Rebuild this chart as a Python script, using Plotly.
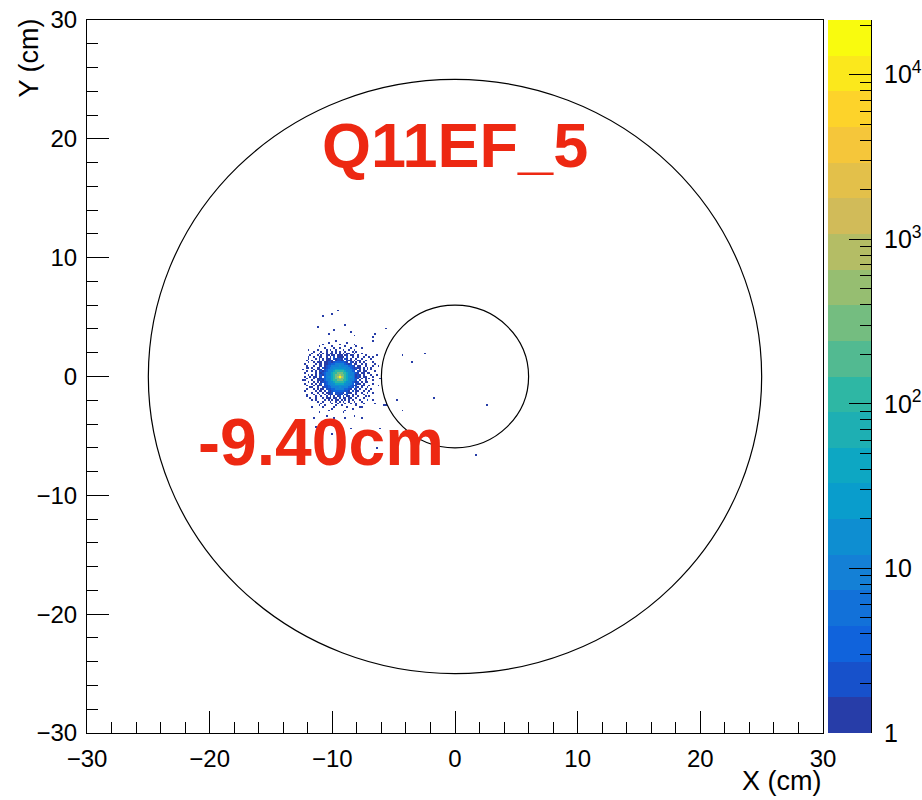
import numpy as np
import plotly.graph_objects as go

# ---------------- data ----------------
x_range = [-30, 30]
y_range = [-30, 30]
x_title = "X (cm)"
y_title = "Y (cm)"

bin_width_cm = 0.15
spot_center_cm = [-9.40, 0.0]

# character -> counts per bin for the core map
level_chars = ['.', '1', '2', '3', '4', '5', '6', '7', '8', '9', 'A', 'B', 'C']
level_counts = [0, 1, 2, 4, 8, 16, 40, 100, 300, 1000, 3000, 10000, 21000]

# core of the beam spot, one char per bin, top row = highest y (spaces are only separators)
core_rows = [
    "..... ..... ..... ...1. . ..... ..... ..... .....",
    "..... ..... ....1 ..... . ...1. ..... ..... .....",
    "..... ..... .1... ..... 1 ..... ..1.. ..... .....",
    "..... ....1 ..... .1... . ..1.. ...1. ..... .....",
    "..... ..... ..1.. ..1.. 1 ..... 1.... .1... .....",
    "..... ...1. ...1. 1..1. . .1..1 ..1.. ..... .....",
    "..... .1... 1..1. .1.1. 1 ..1.. .1.1. ..... .....",
    "..... 1...1 .1.1. 11.1. 1 .1.11 ..1.. .1... .....",
    "....1 ...1. 1..11 .11.1 1 1.11. 11..1 ...1. .....",
    "...1. .1..1 1..1. 1.2.1 1 11.2. .1..1 ..1.. 1....",
    "...1. ..1.1 .1.11 1.212 2 1.21. 1..1. .1... .1...",
    "..1.. 1...1 .1.11 21.12 2 12.21 1.1.1 1..1. .....",
    "...1. .1.11 1.112 21233 3 3321. 21.1. 1.1.. ..1..",
    ".1... ..1.1 1.112 23344 4 44321 2.11. .1.1. ...1.",
    "..1.. .1..1 1.123 34444 5 44443 321.1 1..1. ..1..",
    "...1. 1..11 .2123 44555 5 55544 32121 1.1.1 .1...",
    "1.... .1.11 1.234 45566 6 66554 4321. 1.1.1 .1...",
    "..1.. 1.1.1 21234 55677 7 77655 432.2 1.11. ...1.",
    ".1... ..1.1 12344 56778 8 87765 44321 .11.1 1....",
    "...1. 1.1.2 21344 56788 9 88765 44312 1.1.. .1..1",
    ".1..1 .11.1 2.345 56789 C 98765 54312 1.11. ..1..",
    "..1.. .1.11 12344 56788 9 88765 44321 .1.1. 1....",
    "1.... 1..11 21344 56778 8 87765 4432. 1..1. ..1..",
    "...1. .1.1. 12234 55677 7 77655 43212 .1.11 .....",
    ".1... 1.1.1 2.234 45566 6 66554 43.21 1.1.. ..1..",
    "..1.. .1.11 1.223 44555 5 55544 3221. .11.. 1....",
    "....1 1..1. .1223 34444 5 44443 32.21 .1..1 .....",
    "..1.. .1.1. 11.22 23344 4 44332 1.21. 1..1. .1...",
    ".1... ..1.1 1.1.2 12333 3 33221 .2.11 ..1.. 1....",
    "..... 1..1. .1.11 12.22 2 21.21 1..1. .1..1 ..1..",
    "..1.. .1..1 ..1.1 21.12 1 2.12. .1.1. ..1.. .....",
    "..... ..1.. 1..1. 1.1.1 2 .1.11 .1..1 ...1. 1....",
    "....1 ..1.. .1.11 1.11. 1 .11.1 1..1. ..1.. .....",
    "..... 1.... ..1.1 .1.11 . 1.1.1 .1... 1...1 .....",
    "..... ...1. .1... 1..1. 1 .1..1 ..1.. .1... .....",
    "..... ..... 1.... .1..1 . ..1.. 1..1. ..1.. .....",
    "..... ....1 ..1.. ...1. . 1.... ...1. ..... .....",
    "..... ..... .1... ..1.. . ...1. ..... 1.... .....",
    "..... ..... ..... .1... . ..... .1... ..... .....",
    "..... ..... ....1 ..... . ..1.. ..... ..... .....",
    "..... ..... ..... ..... . .1... ..... ..... .....",
]

# isolated single hits outside the core (cm)
outlier_x = [-9.54, -10.72, -10.03, -8.54, -8.27, -5.69, -6.69, -2.43, -3.51, -4.28,
             -1.80, 2.62, -5.63, -4.73, -6.10, -4.33, 1.73, -11.17, -8.95, -9.90,
             -6.50, -6.77, -6.23, -11.94, -12.21, -12.07, -11.66, -11.53, -10.99, -10.44,
             -9.82, -8.95, -8.13, -7.59, -7.18, -6.50, -5.83, -8.00, -10.03, -11.39,
             -8.54, -6.10, -6.37, -8.40, -7.59, -10.31, -6.64, -6.37, -12.07, -6.77,
             -11.39, -6.23]
outlier_y = [5.51, 5.12, 5.18, 3.77, 3.49, 4.04, 3.01, 2.00, 1.25, 1.75,
             -1.84, -2.34, -2.40, -1.98, -0.13, -2.82, -6.61, 4.25, 4.42, 3.91,
             3.64, 1.67, 0.97, 2.23, -0.29, -1.70, -2.54, -3.38, -2.96, -3.24,
             -3.38, -3.43, -3.24, -2.54, -1.98, -2.26, -2.40, -5.07, -4.78, -4.23,
             -4.36, -4.36, -5.99, -5.85, -3.52, 3.64, 3.35, 1.81, 0.82, -1.98,
             -1.98, -0.72]

circle_radii_cm = [25, 6]
z_max_count = 21500
colorbar_tick_vals = [1, 10, 100, 1000, 10000]
colorbar_tick_text = ["1", "10", "10<sup>2</sup>", "10<sup>3</sup>", "10<sup>4</sup>"]

label_main = "Q11EF_5"
label_main_pos = [0.0, 19.5]
label_shift = "-9.40cm"
label_shift_pos = [-10.9, -5.55]

# ---------------- build histogram ----------------
counts = {}
rows = [r.replace(" ", "").ljust(41, ".")[:41] for r in core_rows]
half = len(rows) // 2
for j, row in enumerate(rows):
    ky = half - j
    for i, ch in enumerate(row):
        c = level_counts[level_chars.index(ch)]
        if c > 0:
            kx = i - half
            counts[(kx, ky)] = counts.get((kx, ky), 0) + c
for x, y in zip(outlier_x, outlier_y):
    kx = int(round((x - spot_center_cm[0]) / bin_width_cm))
    ky = int(round((y - spot_center_cm[1]) / bin_width_cm))
    counts[(kx, ky)] = counts.get((kx, ky), 0) + 1

kxs = [k[0] for k in counts]
kys = [k[1] for k in counts]
kx0, kx1 = min(kxs) - 1, max(kxs) + 1
ky0, ky1 = min(kys) - 1, max(kys) + 1
nx, ny = kx1 - kx0 + 1, ky1 - ky0 + 1
z = np.full((ny, nx), np.nan)
for (kx, ky), c in counts.items():
    z[ky - ky0, kx - kx0] = np.log10(c)
xc = spot_center_cm[0] + np.arange(kx0, kx1 + 1) * bin_width_cm
yc = spot_center_cm[1] + np.arange(ky0, ky1 + 1) * bin_width_cm

# ---------------- kBird palette, 20 contour levels ----------------
bird_stops = [0.0, 0.125, 0.25, 0.375, 0.5, 0.625, 0.75, 0.875, 1.0]
bird_r = [0.2082, 0.0592, 0.0780, 0.0232, 0.1802, 0.5301, 0.8186, 0.9956, 0.9764]
bird_g = [0.1664, 0.3599, 0.5041, 0.6419, 0.7178, 0.7492, 0.7328, 0.7862, 0.9832]
bird_b = [0.5293, 0.8684, 0.8385, 0.7914, 0.6425, 0.4662, 0.3499, 0.1968, 0.0539]
n_cont = 20
colorscale = []
for i in range(n_cont):
    f = int((i + 0.99) * 255 / n_cont) / 254.0
    r = int(round(255 * np.interp(f, bird_stops, bird_r)))
    g = int(round(255 * np.interp(f, bird_stops, bird_g)))
    b = int(round(255 * np.interp(f, bird_stops, bird_b)))
    col = f"rgb({r},{g},{b})"
    colorscale.append([i / n_cont, col])
    colorscale.append([(i + 1) / n_cont, col])

# ---------------- layout geometry ----------------
W, H = 922, 800
ml, mr, mt, mb = 87, 51, 20, 67
plot_right_px = 823
cb_left_px = 828
paper_w = W - ml - mr
dom_right = (plot_right_px - ml) / paper_w
cb_x = (cb_left_px - ml) / paper_w

font_family = "Liberation Sans, Arial, Helvetica, sans-serif"
red = "rgb(237,40,18)"
zmax_log = float(np.log10(z_max_count))

fig = go.Figure()
fig.add_trace(go.Heatmap(
    x=xc, y=yc, z=z, zmin=0, zmax=zmax_log, colorscale=colorscale,
    zsmooth=False, hoverinfo="skip", showscale=False,
))

# palette strip (colour key) drawn as its own heatmap on its own axes
n_strip = 400
strip_edges = np.linspace(0, zmax_log, n_strip + 1)
strip_mid = 0.5 * (strip_edges[:-1] + strip_edges[1:])
fig.add_trace(go.Heatmap(
    x=[0], y=strip_mid, z=strip_mid.reshape(-1, 1), zmin=0, zmax=zmax_log,
    colorscale=colorscale, zsmooth=False, showscale=False, hoverinfo="skip",
    xaxis="x2", yaxis="y3",
))
fig.add_trace(go.Scatter(x=[None], y=[None], xaxis="x2", yaxis="y4",
                         showlegend=False, hoverinfo="skip"))

minor_vals = [m * 10 ** e for e in range(0, 5) for m in range(2, 10) if m * 10 ** e <= z_max_count]

for rad in circle_radii_cm:
    fig.add_shape(type="circle", xref="x", yref="y", x0=-rad, y0=-rad, x1=rad, y1=rad,
                  line=dict(color="black", width=1.2), layer="above")

fig.add_annotation(x=label_main_pos[0], y=label_main_pos[1], xref="x", yref="y",
                   text=f"<b>{label_main}</b>", showarrow=False, xanchor="center", yanchor="middle",
                   font=dict(family=font_family, size=63, color=red))
fig.add_annotation(x=label_shift_pos[0], y=label_shift_pos[1], xref="x", yref="y",
                   text=f"<b>{label_shift}</b>", showarrow=False, xanchor="center", yanchor="middle",
                   font=dict(family=font_family, size=66, color=red))
fig.add_annotation(x=x_range[1], y=0, xref="x", yref="paper", text=x_title, showarrow=False,
                   xanchor="right", yanchor="top", yshift=-31,
                   font=dict(family=font_family, size=27, color="black"))
fig.add_annotation(x=0, y=1, xref="paper", yref="paper", text=y_title, showarrow=False,
                   xanchor="center", yanchor="top", xshift=-59, yshift=3, textangle=-90,
                   font=dict(family=font_family, size=27, color="black"))

axis_common = dict(showgrid=False, zeroline=False, showline=True, linecolor="black", linewidth=1,
                   mirror=True, ticks="inside", ticklen=22, tickwidth=1, tickcolor="black",
                   tickmode="linear", tick0=0, dtick=10, automargin=False,
                   tickfont=dict(family=font_family, size=24, color="black"),
                   minor=dict(ticks="inside", ticklen=11, tickwidth=1, tickcolor="black",
                              dtick=2, tick0=0, showgrid=False))

hidden = dict(visible=False, showgrid=False, zeroline=False, automargin=False)

fig.update_layout(
    width=W, height=H, autosize=False,
    margin=dict(l=ml, r=mr, t=mt, b=mb, pad=0),
    paper_bgcolor="white", plot_bgcolor="white",
    showlegend=False,
    xaxis=dict(range=x_range, domain=[0, dom_right], ticklabelstandoff=4, **axis_common),
    yaxis=dict(range=y_range, domain=[0, 1], ticklabelstandoff=4, **axis_common),
    xaxis2=dict(domain=[cb_x, 1.0], range=[-0.5, 0.5], anchor="y3", **hidden),
    yaxis3=dict(domain=[0, 1], range=[0, zmax_log], anchor="x2", **hidden),
    yaxis4=dict(type="log", range=[0, zmax_log], overlaying="y3", anchor="x2",
                side="right", showgrid=False, zeroline=False, showline=True, linecolor="black",
                linewidth=1, ticks="inside", ticklen=22, tickwidth=1, tickcolor="black",
                tickmode="array", tickvals=colorbar_tick_vals, ticktext=colorbar_tick_text,
                tickfont=dict(family=font_family, size=25, color="black"), ticklabelstandoff=7,
                automargin=False,
                minor=dict(ticks="inside", ticklen=11, tickwidth=1, tickcolor="black",
                           tickmode="array", tickvals=minor_vals, showgrid=False)),
    font=dict(family=font_family, color="black"),
)

fig.write_html("out.html", config={"displayModeBar": False})
